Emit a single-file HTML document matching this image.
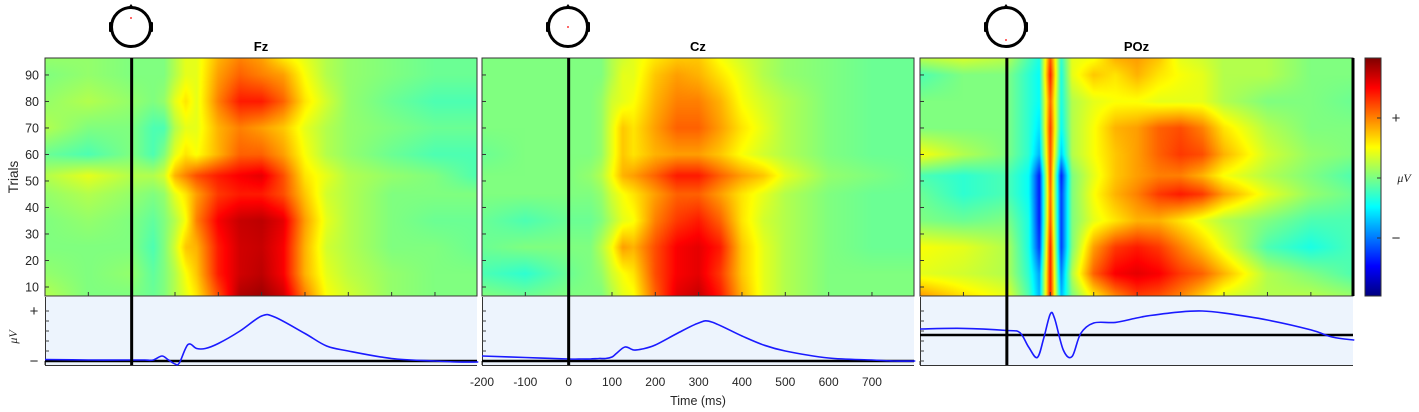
<!DOCTYPE html>
<html><head><meta charset="utf-8">
<style>
body{margin:0;background:#fff;width:1419px;height:412px;overflow:hidden;position:relative;font-family:"Liberation Sans",sans-serif;}
canvas{position:absolute;}
svg{position:absolute;left:0;top:0;}
</style></head>
<body>
<canvas id="c0" width="432" height="238" style="left:45px;top:58px"></canvas>
<canvas id="c1" width="432" height="238" style="left:482px;top:58px"></canvas>
<canvas id="c2" width="433" height="238" style="left:920px;top:58px"></canvas>
<canvas id="cb" width="16" height="238" style="left:1365px;top:58px"></canvas>
<svg id="ov" width="1419" height="412"></svg>
<script>
// ---------- data ----------
const gridTimes=[-200,-100,0,50,75,100,125,150,200,250,300,350,400,450,500,600,700,800];
const gridTrials=[7,15,25,35,45,52,60,70,80,90,96];
const fzImage=[
[.55,.5,.5,.48,.5,.55,.6,.65,.8,.95,.97,.92,.75,.62,.58,.52,.5,.5],
[.52,.5,.52,.47,.5,.55,.62,.68,.85,.92,.94,.88,.7,.6,.56,.52,.5,.5],
[.5,.5,.5,.45,.5,.58,.68,.7,.85,.92,.93,.88,.7,.58,.55,.5,.5,.48],
[.5,.52,.5,.47,.5,.55,.62,.75,.88,.93,.94,.9,.72,.6,.55,.5,.48,.48],
[.52,.55,.52,.5,.52,.6,.65,.72,.82,.85,.85,.8,.68,.58,.55,.5,.5,.5],
[.55,.6,.55,.55,.58,.7,.75,.8,.85,.88,.9,.8,.65,.6,.55,.52,.5,.45],
[.48,.45,.5,.45,.5,.6,.65,.62,.7,.78,.78,.72,.62,.55,.52,.48,.45,.45],
[.55,.5,.5,.45,.45,.55,.6,.6,.7,.75,.72,.68,.6,.55,.52,.5,.48,.48],
[.52,.55,.52,.5,.52,.6,.65,.6,.75,.85,.85,.78,.65,.58,.52,.48,.45,.45],
[.5,.52,.5,.5,.5,.55,.6,.6,.72,.78,.75,.72,.62,.55,.52,.5,.48,.48],
[.52,.52,.5,.5,.5,.55,.6,.6,.7,.75,.72,.65,.6,.55,.52,.5,.48,.48]];
const czImage=[
[.5,.48,.5,.5,.5,.55,.6,.62,.78,.9,.93,.85,.7,.6,.55,.5,.5,.5],
[.45,.42,.48,.5,.52,.58,.62,.65,.8,.88,.9,.82,.68,.6,.55,.5,.5,.5],
[.48,.5,.5,.5,.55,.62,.72,.7,.8,.88,.9,.85,.68,.6,.55,.5,.48,.48],
[.48,.45,.48,.48,.5,.55,.6,.62,.75,.82,.85,.78,.65,.58,.55,.5,.48,.48],
[.5,.5,.5,.5,.52,.58,.62,.65,.72,.78,.78,.72,.65,.6,.55,.5,.48,.48],
[.5,.5,.5,.52,.55,.62,.7,.72,.78,.85,.85,.78,.72,.68,.6,.52,.5,.48],
[.48,.5,.5,.5,.52,.6,.68,.65,.7,.72,.72,.68,.62,.58,.55,.5,.48,.48],
[.5,.5,.5,.5,.52,.6,.68,.65,.72,.78,.78,.72,.65,.6,.55,.5,.48,.48],
[.5,.5,.5,.5,.52,.58,.6,.62,.7,.75,.75,.7,.62,.58,.55,.5,.48,.48],
[.5,.5,.5,.5,.5,.55,.6,.6,.68,.72,.7,.65,.6,.55,.52,.5,.48,.48],
[.5,.5,.5,.5,.5,.55,.58,.6,.65,.68,.68,.62,.58,.55,.52,.5,.48,.48]];
const pozImage=[
[.72,.65,.6,.45,.3,.85,.3,.5,.65,.75,.82,.8,.75,.68,.6,.55,.55,.52],
[.6,.58,.55,.42,.28,.85,.25,.55,.78,.88,.9,.88,.82,.78,.7,.55,.5,.45],
[.62,.6,.55,.4,.18,.85,.18,.5,.72,.82,.85,.82,.75,.68,.6,.45,.4,.45],
[.5,.48,.5,.4,.15,.8,.18,.5,.6,.65,.7,.7,.65,.6,.55,.5,.45,.45],
[.48,.42,.45,.38,.15,.78,.18,.5,.62,.7,.75,.82,.85,.82,.72,.6,.52,.48],
[.45,.42,.45,.38,.15,.8,.15,.5,.6,.68,.72,.75,.75,.7,.62,.55,.5,.45],
[.62,.55,.5,.42,.3,.8,.32,.55,.62,.68,.72,.78,.82,.8,.7,.58,.52,.5],
[.5,.5,.5,.42,.35,.82,.38,.55,.62,.7,.72,.78,.8,.75,.65,.55,.5,.5],
[.5,.5,.5,.42,.38,.78,.4,.55,.6,.62,.62,.6,.6,.6,.55,.5,.5,.48],
[.45,.5,.5,.42,.38,.85,.4,.6,.68,.65,.7,.65,.62,.6,.55,.55,.5,.5],
[.55,.58,.55,.45,.4,.8,.42,.6,.62,.7,.72,.68,.6,.58,.55,.55,.5,.5]];
const erpTimes=[-200,-100,0,30,50,70,85,100,110,130,150,170,200,250,300,330,400,450,500,600,700,750,800];
const fzErp=[0.03,0.02,0.02,0.02,0.02,0.1,0.02,-0.06,-0.04,0.33,0.25,0.25,0.35,0.6,0.9,0.88,0.55,0.3,0.2,0.05,0.0,-0.02,-0.02];
const czErp=[0.1,0.07,0.04,0.04,0.04,0.05,0.05,0.08,0.15,0.28,0.22,0.24,0.32,0.55,0.76,0.78,0.5,0.32,0.2,0.06,0.02,0.0,0.0];
const pozErp=[0.2,0.22,0.15,0.08,-0.4,-0.75,-0.1,0.7,0.55,-0.5,-0.72,0.05,0.4,0.42,0.57,0.65,0.77,0.8,0.73,0.5,0.17,-0.07,-0.17];
const trialTicks=[10,20,30,40,50,60,70,80,90];
const timeTicks=[-200,-100,0,100,200,300,400,500,600,700];

// ---------- helpers ----------
const NS='http://www.w3.org/2000/svg';
const ov=document.getElementById('ov');
function jet(v){v=Math.max(0,Math.min(1,v));const c=x=>Math.round(255*Math.max(0,Math.min(1,1.5-Math.abs(x))));return [c(4*v-3),c(4*v-2),c(4*v-1)];}
function interp1(xs,ys,x){if(x<=xs[0])return ys[0];for(let i=1;i<xs.length;i++){if(x<=xs[i]){const t=(x-xs[i-1])/(xs[i]-xs[i-1]);return ys[i-1]+t*(ys[i]-ys[i-1]);}}return ys[ys.length-1];}
function sv(tag,attrs,parent){const e=document.createElementNS(NS,tag);for(const k in attrs)e.setAttribute(k,attrs[k]);(parent||ov).appendChild(e);return e;}
function smoothPath(pts){let d='M'+pts[0][0].toFixed(1)+','+pts[0][1].toFixed(1);
  for(let i=0;i<pts.length-1;i++){const p0=pts[Math.max(0,i-1)],p1=pts[i],p2=pts[i+1],p3=pts[Math.min(pts.length-1,i+2)];
    const c1=[p1[0]+(p2[0]-p0[0])/6,p1[1]+(p2[1]-p0[1])/6],c2=[p2[0]-(p3[0]-p1[0])/6,p2[1]-(p3[1]-p1[1])/6];
    d+=`C${c1[0].toFixed(1)},${c1[1].toFixed(1)} ${c2[0].toFixed(1)},${c2[1].toFixed(1)} ${p2[0].toFixed(1)},${p2[1].toFixed(1)}`;}
  return d;}
const T0=-200,T1=797,Y0=58,Y1=296,TR0=6.6,TR1=96.4;
function drawHeat(id,mat){
  const cv=document.getElementById(id),ctx=cv.getContext('2d'),W=cv.width,H=cv.height;
  const img=ctx.createImageData(W,H);
  for(let py=0;py<H;py++){
    const tr=TR1-(py+0.5)/H*(TR1-TR0);
    const rowVals=gridTimes.map((_,j)=>interp1(gridTrials,mat.map(r=>r[j]),tr));
    for(let px=0;px<W;px++){
      const t=T0+(px+0.5)/W*(T1-T0);
      const [r,g,b]=jet(interp1(gridTimes,rowVals,t));
      const k=4*(py*W+px);img.data[k]=r;img.data[k+1]=g;img.data[k+2]=b;img.data[k+3]=255;}
  }
  ctx.putImageData(img,0,0);
}
drawHeat('c0',fzImage);drawHeat('c1',czImage);drawHeat('c2',pozImage);
(function(){const cv=document.getElementById('cb'),ctx=cv.getContext('2d');for(let y=0;y<238;y++){const [r,g,b]=jet(1-(y+0.5)/238);ctx.fillStyle=`rgb(${r},${g},${b})`;ctx.fillRect(0,y,16,1);}})();

const panels=[
 {name:'fz',title:'Fz',x0:45,x1:477,erp:fzErp,zeroY:361,scale:50,dot:[131,18],head:131},
 {name:'cz',title:'Cz',x0:482,x1:914,erp:czErp,zeroY:361,scale:50,dot:[568,27],head:568},
 {name:'poz',title:'POz',x0:920,x1:1353,erp:pozErp,zeroY:335,scale:30,dot:[1006,40],head:1006}];
panels.forEach((p,pi)=>{
  const xs=t=>p.x0+(t-T0)/(T1-T0)*(p.x1-p.x0);
  const ys=tr=>Y0+(TR1-tr)/(TR1-TR0)*(Y1-Y0);
  const g=sv('g',{});
  
  
  const fr=sv('rect',{x:p.x0,y:Y0,width:p.x1-p.x0,height:Y1-Y0,fill:'none',stroke:'#333','stroke-width':1},g);
  
  timeTicks.forEach(t=>{const x=xs(t);sv('line',{x1:x,x2:x,y1:Y1,y2:Y1-4,stroke:'#333'},g);sv('line',{x1:x,x2:x,y1:365,y2:361,stroke:'#333'},g);});
  trialTicks.forEach(tr=>{const y=ys(tr);sv('line',{x1:p.x0,x2:p.x0+4,y1:y,y2:y,stroke:'#333'},g);});
  const eb=sv('rect',{x:p.x0,y:297,width:p.x1-p.x0,height:68,fill:'#edf4fd',stroke:'none'},g);
  
  sv('line',{x1:p.x0,x2:p.x1,y1:365.5,y2:365.5,stroke:'#333'},g);
  sv('line',{x1:p.x0+0.5,x2:p.x0+0.5,y1:297,y2:365,stroke:'#333'},g);
  [0,1,2,3,4,5].forEach(k=>{const y=311+k*10;sv('line',{x1:p.x0,x2:p.x0+4,y1:y,y2:y,stroke:'#444'},g);});
  const zl=sv('line',{x1:p.x0,x2:p.x1,y1:p.zeroY,y2:p.zeroY,stroke:'#000','stroke-width':2.5},g);
  
  const pts=erpTimes.map((t,i)=>[xs(t),p.zeroY-p.erp[i]*p.scale]);
  const ln=sv('path',{d:smoothPath(pts),fill:'none',stroke:'#1a1aff','stroke-width':1.6,'stroke-linejoin':'round'},g);
  
  const st=sv('line',{x1:xs(0),x2:xs(0),y1:Y0,y2:365,stroke:'#000','stroke-width':3},g);
  
  if(pi===2){sv('line',{x1:p.x1,x2:p.x1,y1:Y0,y2:Y1,stroke:'#000','stroke-width':3},g);}
  const ti=sv('text',{x:(p.x0+p.x1)/2,y:51,'text-anchor':'middle','font-size':13,'font-weight':'bold',fill:'#000'},g);
  ti.textContent=p.title;
  const hg=sv('g',{},g);
  sv('path',{d:`M${p.head-3},8 L${p.head},4 L${p.head+3},8 Z`,fill:'#000'},hg);
  sv('rect',{x:p.head-22,y:22,width:4,height:10,rx:1,fill:'#000'},hg);
  sv('rect',{x:p.head+18,y:22,width:4,height:10,rx:1,fill:'#000'},hg);
  sv('circle',{cx:p.head,cy:27,r:19.5,fill:'#fff',stroke:'#000','stroke-width':3},hg);
  sv('circle',{cx:p.dot[0],cy:p.dot[1],r:0.9,fill:'#f00'},hg);
});
const yl=sv('g',{});
trialTicks.forEach(tr=>{const y=Y0+(TR1-tr)/(TR1-TR0)*(Y1-Y0);const t=sv('text',{x:39,y:y+4.5,'text-anchor':'end','font-size':12.5,fill:'#262626'},yl);t.textContent=tr;});
const ytl=sv('text',{x:0,y:0,transform:'translate(18,177) rotate(-90)','text-anchor':'middle','font-size':13.5,fill:'#262626'});
ytl.textContent='Trials';
const pl=sv('text',{x:34,y:316,'text-anchor':'middle','font-size':15,fill:'#262626'});pl.textContent='+';
const mi=sv('text',{x:34,y:366,'text-anchor':'middle','font-size':15,fill:'#262626'});mi.textContent='−';
const uv=sv('text',{x:0,y:0,transform:'translate(17,337) rotate(-90)','text-anchor':'middle','font-size':12,'font-style':'italic',fill:'#262626','font-family':'Liberation Serif'});
uv.textContent='μV';
const xl=sv('g',{});
timeTicks.forEach(t=>{const x=482+(t-T0)/(T1-T0)*432;const e=sv('text',{x:x,y:386,'text-anchor':'middle','font-size':12,fill:'#262626'},xl);e.textContent=t;});
const xt=sv('text',{x:698,y:405,'text-anchor':'middle','font-size':12.5,fill:'#262626'});
xt.textContent='Time (ms)';
sv('rect',{x:1365,y:58,width:16,height:238,fill:'none',stroke:'#333'});
[118,178,238].forEach(y=>{sv('line',{x1:1377,x2:1381,y1:y,y2:y,stroke:'#333'});});
const cp=sv('text',{x:1396,y:123,'text-anchor':'middle','font-size':15,fill:'#262626'});cp.textContent='+';
const cm=sv('text',{x:1396,y:243,'text-anchor':'middle','font-size':15,fill:'#262626'});cm.textContent='−';
const cu=sv('text',{x:1404,y:182,'text-anchor':'middle','font-size':12,'font-style':'italic',fill:'#262626','font-family':'Liberation Serif'});
cu.textContent='μV';
</script>
</body></html>
